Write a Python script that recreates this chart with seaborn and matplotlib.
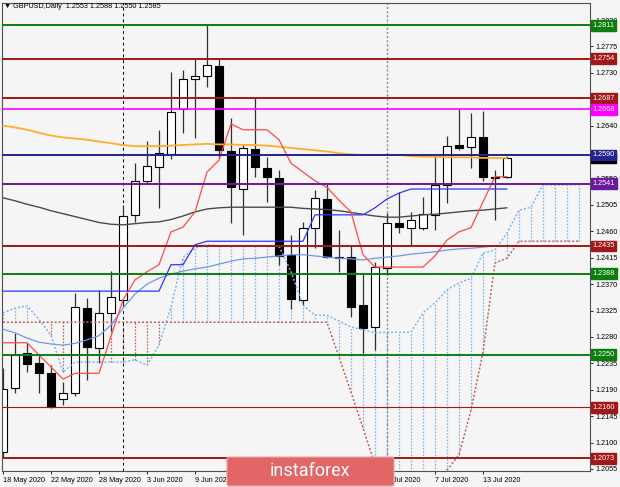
import numpy as np
import pandas as pd
import matplotlib
matplotlib.use("Agg")
import matplotlib.pyplot as plt
import matplotlib.transforms as mtransforms
from matplotlib.patches import FancyBboxPatch
import seaborn as sns

# daily candles, 18 May 2020 .. 15 Jul 2020
opens = [1.2084, 1.2193, 1.2253, 1.2236, 1.2219, 1.2174, 1.2184, 1.2329, 1.2261, 1.2321,
         1.2343, 1.2488, 1.2546, 1.2570, 1.2592, 1.2668, 1.2719, 1.2725, 1.2742, 1.2597,
         1.2532, 1.2600, 1.2568, 1.2551, 1.2420, 1.2343, 1.2466, 1.2515, 1.2416, 1.2416,
         1.2334, 1.2297, 1.2397, 1.2474, 1.2466, 1.2466, 1.2488, 1.2539, 1.2607, 1.2604,
         1.2621, 1.2550, 1.2553]
highs = [1.2227, 1.2287, 1.2270, 1.2249, 1.2232, 1.2203, 1.2355, 1.2346, 1.2360, 1.2392,
         1.2505, 1.2576, 1.2614, 1.2633, 1.2731, 1.2735, 1.2755, 1.2811, 1.2754, 1.2653,
         1.2609, 1.2687, 1.2587, 1.2564, 1.2454, 1.2476, 1.2530, 1.2542, 1.2462, 1.2435,
         1.2389, 1.2408, 1.2491, 1.2527, 1.2493, 1.2518, 1.2590, 1.2622, 1.2668, 1.2662,
         1.2665, 1.2565, 1.2588]
lows = [1.2075, 1.2184, 1.2220, 1.2184, 1.2159, 1.2164, 1.2180, 1.2207, 1.2236, 1.2290,
        1.2331, 1.2476, 1.2542, 1.2500, 1.2583, 1.2627, 1.2619, 1.2706, 1.2585, 1.2474,
        1.2454, 1.2552, 1.2510, 1.2403, 1.2328, 1.2334, 1.2431, 1.2414, 1.2391, 1.2314,
        1.2253, 1.2258, 1.2385, 1.2457, 1.2437, 1.2462, 1.2462, 1.2508, 1.2598, 1.2568,
        1.2546, 1.2479, 1.2550]
closes = [1.2191, 1.2249, 1.2234, 1.2219, 1.2161, 1.2184, 1.2331, 1.2263, 1.2321, 1.2348,
          1.2486, 1.2546, 1.2571, 1.2593, 1.2663, 1.2719, 1.2725, 1.2743, 1.2598, 1.2535,
          1.2602, 1.2569, 1.2552, 1.2418, 1.2345, 1.2466, 1.2517, 1.2416, 1.2414, 1.2331,
          1.2295, 1.2399, 1.2474, 1.2467, 1.2479, 1.2489, 1.2539, 1.2605, 1.2602, 1.2621,
          1.2553, 1.2553, 1.2585]

ma_orange = [1.2640, 1.2637, 1.2633, 1.2628, 1.2623, 1.2620, 1.2618, 1.2616, 1.2613, 1.2610,
             1.2607, 1.2605, 1.2605, 1.2605, 1.2606, 1.2607, 1.2608, 1.2609, 1.2608, 1.2608,
             1.2607, 1.2607, 1.2606, 1.2604, 1.2602, 1.2600, 1.2598, 1.2596, 1.2593, 1.2591,
             1.2590, 1.2590, 1.2590, 1.2590, 1.2588, 1.2587, 1.2587, 1.2586, 1.2586, 1.2586,
             1.2585, 1.2585, 1.2585]
ma_grey = [1.2517, 1.2512, 1.2506, 1.2501, 1.2495, 1.2490, 1.2485, 1.2480, 1.2475, 1.2472,
           1.2471, 1.2473, 1.2475, 1.2476, 1.2480, 1.2486, 1.2493, 1.2498, 1.2500, 1.2501,
           1.2501, 1.2501, 1.2501, 1.2501, 1.2501, 1.2499, 1.2498, 1.2497, 1.2495, 1.2492,
           1.2489, 1.2486, 1.2484, 1.2484, 1.2486, 1.2488, 1.2489, 1.2491, 1.2493, 1.2495,
           1.2496, 1.2498, 1.2500]
ma_blue = [1.2293, 1.2287, 1.2278, 1.2271, 1.2268, 1.2266, 1.2269, 1.2275, 1.2282, 1.2300,
           1.2329, 1.2353, 1.2370, 1.2380, 1.2387, 1.2392, 1.2396, 1.2399, 1.2404, 1.2409,
           1.2413, 1.2414, 1.2416, 1.2418, 1.2420, 1.2420, 1.2418, 1.2416, 1.2414, 1.2413,
           1.2411, 1.2414, 1.2416, 1.2418, 1.2421, 1.2423, 1.2425, 1.2428, 1.2430, 1.2431,
           1.2433, 1.2435, 1.2435]
tenkan = [1.2270, 1.2270, 1.2270, 1.2249, 1.2229, 1.2208, 1.2218, 1.2218, 1.2218, 1.2281,
          1.2343, 1.2377, 1.2391, 1.2403, 1.2459, 1.2467, 1.2493, 1.2561, 1.2581, 1.2643,
          1.2633, 1.2633, 1.2633, 1.2616, 1.2576, 1.2561, 1.2546, 1.2535, 1.2513, 1.2493,
          1.2420, 1.2399, 1.2399, 1.2399, 1.2399, 1.2399, 1.2418, 1.2445, 1.2459, 1.2466,
          1.2510, 1.2553, 1.2553]
kijun = [1.2358, 1.2358, 1.2358, 1.2358, 1.2358, 1.2358, 1.2358, 1.2358, 1.2358, 1.2358,
         1.2358, 1.2358, 1.2358, 1.2358, 1.2403, 1.2403, 1.2437, 1.2443, 1.2443, 1.2443,
         1.2443, 1.2443, 1.2443, 1.2443, 1.2443, 1.2443, 1.2488, 1.2488, 1.2488, 1.2488,
         1.2488, 1.2500, 1.2515, 1.2525, 1.2532, 1.2532, 1.2532, 1.2532, 1.2532, 1.2532,
         1.2532, 1.2532, 1.2532]
# cloud runs 6 bars past the last candle
senkou_a = [1.2321, 1.2329, 1.2333, 1.2310, 1.2283, 1.2220, 1.2237, 1.2237, 1.2237, 1.2237,
            1.2237, 1.2241, 1.2232, 1.2266, 1.2331, 1.2416, 1.2431, 1.2437, 1.2435, 1.2435,
            1.2435, 1.2435, 1.2435, 1.2435, 1.2391, 1.2334, 1.2317, 1.2317, 1.2307, 1.2297,
            1.2292, 1.2287, 1.2288, 1.2288, 1.2288, 1.2321, 1.2338, 1.2360, 1.2372, 1.2380,
            1.2423, 1.2428, 1.2457, 1.2496, 1.2501, 1.2539, 1.2539, 1.2539, 1.2539]
senkou_b = [1.2305] * 28 + [1.2246, 1.2186, 1.2125, 1.2062, 1.2011, 1.1985, 1.1985, 1.1990,
                            1.2011, 1.2053, 1.2079, 1.2155, 1.2254, 1.2406, 1.2414, 1.2443,
                            1.2443, 1.2443, 1.2443, 1.2443, 1.2443]

levels = [1.2811, 1.2754, 1.2687, 1.2668, 1.2590, 1.2541, 1.2435, 1.2388, 1.2250, 1.2160, 1.2073]
last_price = 1.2585

tick_pos = [0, 4, 8, 12, 16, 20, 24, 28, 32, 36, 40]
tick_labels = ["18 May 2020", "22 May 2020", "28 May 2020", "3 Jun 2020", "9 Jun 2020",
               "15 Jun 2020", "19 Jun 2020", "25 Jun 2020", "1 Jul 2020", "7 Jul 2020",
               "13 Jul 2020"]
y_ticks = [1.2055, 1.2100, 1.2145, 1.2190, 1.2235, 1.2280, 1.2325, 1.2370, 1.2415, 1.2460,
           1.2505, 1.2550, 1.2595, 1.2640, 1.2685, 1.2730, 1.2775, 1.2820]
# these two sit fully under the level boxes in the original
hidden_ticks = [1.2595, 1.2685]

df = pd.DataFrame({"o": opens, "h": highs, "l": lows, "c": closes,
                   "ma_orange": ma_orange, "ma_grey": ma_grey, "ma_blue": ma_blue,
                   "tenkan": tenkan, "kijun": kijun})
df["i"] = np.arange(len(df))
cloud = pd.DataFrame({"a": senkou_a, "b": senkou_b})
cloud["i"] = np.arange(len(cloud))

sns.set_style("white")
plt.rcParams['font.family'] = ['Liberation Sans', 'DejaVu Sans']

bg = '#f5f5f5'
fig = plt.figure(figsize=(6.2, 4.87), dpi=100)
fig.patch.set_facecolor(bg)
ax = fig.add_axes([2/620, 16/487, 588/620, 468/487])
ax.set_facecolor(bg)

# cloud hatching
light_blue = '#7db4ee'
brown = '#bf5f5f'
for _, r in cloud.iterrows():
    col = light_blue if r.a >= r.b else brown
    ax.vlines(r.i, min(r.a, r.b), max(r.a, r.b), colors=col, linestyles=(0, (1.3, 1.3)),
              lw=0.9, zorder=1)

# month separators
ax.axvline(10, color='black', ls=(0, (3, 3)), lw=0.7, zorder=1)
ax.axvline(32, color='#8a8a8a', ls=(0, (1.5, 1.5)), lw=1.0, zorder=1)

# candles
ax.vlines(df.i, df.l, df.h, colors='#303030', lw=0.9, zorder=2)
bull = df.c >= df.o
body_h = (df.c - df.o).abs().clip(lower=0.00003)
body_b = df[["o", "c"]].min(axis=1)
ax.bar(df.i[bull], body_h[bull], bottom=body_b[bull], width=0.64, color='white',
       edgecolor='black', lw=0.8, zorder=2.5)
ax.bar(df.i[~bull], body_h[~bull], bottom=body_b[~bull], width=0.64, color='black',
       edgecolor='black', lw=0.8, zorder=2.5)

# indicators
sns.lineplot(data=cloud, x="i", y="a", ax=ax, color=light_blue, lw=1.1,
             linestyle=(0, (1.3, 1.3)), zorder=3)
sns.lineplot(data=cloud, x="i", y="b", ax=ax, color=brown, lw=1.1,
             linestyle=(0, (1.3, 1.3)), zorder=3)
sns.lineplot(data=df, x="i", y="ma_orange", ax=ax, color='#ffae2a', lw=1.3, zorder=3)
sns.lineplot(data=df, x="i", y="ma_grey", ax=ax, color='#4a4a4a', lw=1.0, zorder=3)
sns.lineplot(data=df, x="i", y="ma_blue", ax=ax, color='#6f98ec', lw=0.9, zorder=3)
sns.lineplot(data=df, x="i", y="kijun", ax=ax, color='#3434ff', lw=0.9, zorder=3)
sns.lineplot(data=df, x="i", y="tenkan", ax=ax, color='#ff4a4a', lw=0.9, zorder=3)

# horizontal levels with price boxes
level_colors = ['#0d7d0d', '#a01818', '#a01818', '#ff00ff', '#232391', '#6c1a9c',
                '#a01818', '#0d7d0d', '#0d7d0d', '#a01818', '#a01818']
level_widths = [1.4, 1.4, 1.4, 1.2, 1.4, 1.4, 1.4, 1.4, 1.4, 0.8, 1.4]
trans = mtransforms.blended_transform_factory(ax.transAxes, ax.transData)
ax.text(1.004, last_price, f"{last_price:.4f}", transform=trans, ha='left', va='center',
        fontsize=5.2, color='white', clip_on=False, zorder=5,
        bbox=dict(boxstyle='square,pad=0.25', fc='black', ec='black'))
for lv, col, lw in zip(levels, level_colors, level_widths):
    ax.axhline(lv, color=col, lw=lw, zorder=4)
    ax.text(1.004, lv, f"{lv:.4f}", transform=trans, ha='left', va='center',
            fontsize=5.2, color='white', clip_on=False, zorder=6,
            bbox=dict(boxstyle='square,pad=0.25', fc=col, ec=col))

ax.set_xlim(-0.083, 48.92)
ax.set_ylim(1.20515, 1.2849)
ax.set_xlabel("")
ax.set_ylabel("")

ax.yaxis.tick_right()
ax.set_yticks(y_ticks, ["" if v in hidden_ticks else f"{v:.4f}" for v in y_ticks])
ax.set_xticks(tick_pos, tick_labels)
for lab in ax.get_xticklabels():
    lab.set_ha('left')
ax.tick_params(axis='both', direction='out', length=2.5, width=0.6, labelsize=5.2,
               colors='black', pad=1.5)
ax.tick_params(axis='x', bottom=True, pad=2)
ax.tick_params(axis='y', right=True, left=False)
for sp in ax.spines.values():
    sp.set_color('#505050')
    sp.set_linewidth(0.8)

ax.text(0.0035, 0.9915, "\u25BC GBPUSD,Daily  1.2553 1.2588 1.2550 1.2585",
        transform=ax.transAxes, ha='left', va='center', fontsize=5.2, color='black', zorder=7)

# watermark
wm = FancyBboxPatch((227/620, 0.002), (394 - 227)/620, (487 - 458)/487,
                    boxstyle='round,pad=0,rounding_size=0.004', transform=fig.transFigure,
                    fc='#e26666', ec='#eba3a3', lw=0.8, zorder=10)
fig.add_artist(wm)
fig.text(310/620, (487 - 471)/487, "instaforex", ha='center', va='center', color='white',
         fontsize=13, family='Roboto', zorder=11)

fig.savefig("out.png", dpi=100, facecolor=bg)
